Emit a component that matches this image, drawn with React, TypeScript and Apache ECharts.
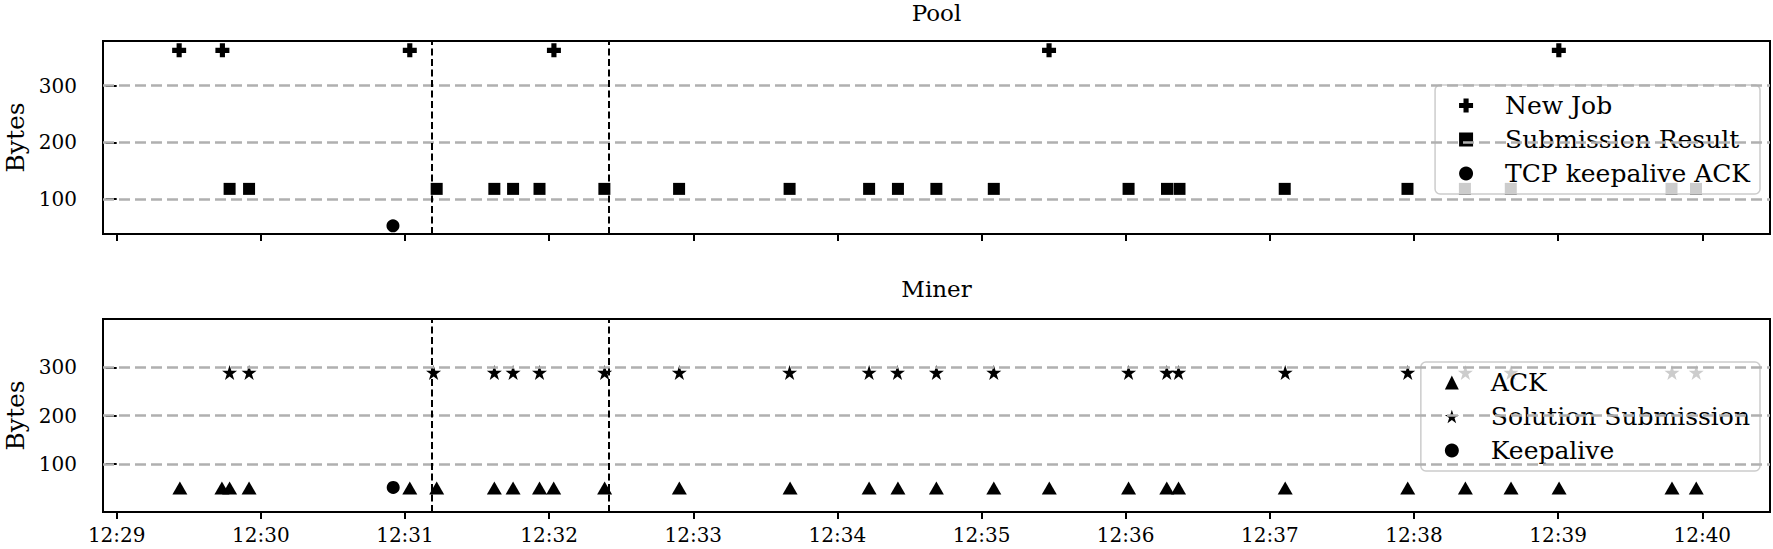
import React, { useEffect, useRef } from "react";
import * as echarts from "echarts";

// ---------- data (times are clock times, bytes are packet sizes) ----------
const START = "12:29:00";
const X_MIN_TIME = "12:28:54.3";
const X_MAX_TIME = "12:40:28.2";
const TICK_TIMES = ["12:29", "12:30", "12:31", "12:32", "12:33", "12:34", "12:35", "12:36", "12:37", "12:38", "12:39", "12:40"];
const Y_TICKS_POOL = [100, 200, 300];
const Y_TICKS_MINER = [0, 100, 200, 300, 400];
const GRID_VALUES = [100, 200, 300];
const EVENT_LINES = ["12:31:11.1", "12:32:24.9"];

const NEW_JOB_TIMES = ["12:29:26.0", "12:29:44.0", "12:31:02.0", "12:32:02.0", "12:35:28.1", "12:39:00.3"];
const NEW_JOB_BYTES = 362;

const SUBMISSION_RESULT_TIMES = [
  "12:29:47.0", "12:29:55.1", "12:31:13.2", "12:31:37.2", "12:31:45.0", "12:31:56.0", "12:32:23.0",
  "12:32:54.1", "12:33:40.1", "12:34:13.2", "12:34:25.2", "12:34:41.2", "12:35:05.1", "12:36:01.2",
  "12:36:17.2", "12:36:22.4", "12:37:06.2", "12:37:57.3", "12:38:21.2", "12:38:40.3", "12:39:47.2", "12:39:57.4",
];
const SUBMISSION_RESULT_BYTES = 118;

const TCP_KEEPALIVE_ACK_TIMES = ["12:30:55.0"];
const TCP_KEEPALIVE_ACK_BYTES = 53;

const ACK_TIMES = [
  "12:29:26.3", "12:29:43.8", "12:29:47.0", "12:29:55.1", "12:31:02.0", "12:31:13.2", "12:31:37.2",
  "12:31:45.0", "12:31:56.0", "12:32:01.9", "12:32:23.1", "12:32:54.2", "12:33:40.3", "12:34:13.2",
  "12:34:25.2", "12:34:41.2", "12:35:05.1", "12:35:28.2", "12:36:01.2", "12:36:17.1", "12:36:22.0",
  "12:37:06.4", "12:37:57.4", "12:38:21.4", "12:38:40.4", "12:39:00.4", "12:39:47.4", "12:39:57.5",
];
const ACK_BYTES = 50;

const SOLUTION_SUBMISSION_TIMES = [
  "12:29:47.0", "12:29:55.1", "12:31:11.9", "12:31:37.2", "12:31:45.0", "12:31:56.0", "12:32:23.1",
  "12:32:54.2", "12:33:40.1", "12:34:13.2", "12:34:25.0", "12:34:41.2", "12:35:05.1", "12:36:01.2",
  "12:36:17.1", "12:36:22.0", "12:37:06.4", "12:37:57.4", "12:38:21.4", "12:38:40.4", "12:39:47.4", "12:39:57.5",
];
const SOLUTION_SUBMISSION_BYTES = 289;

const KEEPALIVE_TIMES = ["12:30:55.1"];
const KEEPALIVE_BYTES = 51;

// ---------- helpers ----------
const toSec = (t: string) => {
  const p = t.split(":").map(Number);
  return p[0] * 3600 + p[1] * 60 + (p[2] || 0);
};
const rel = (t: string) => toSec(t) - toSec(START);
const pts = (times: string[], bytes: number) => times.map((t) => [rel(t), bytes]);

const FONT = "'DejaVu Serif', 'Liberation Serif', serif";
const BLACK = "#000000";

const PLUS_PATH =
  "path://M-1.1,-3L1.1,-3L1.1,-1.1L3,-1.1L3,1.1L1.1,1.1L1.1,3L-1.1,3L-1.1,1.1L-3,1.1L-3,-1.1L-1.1,-1.1Z";
const STAR_PATH = (() => {
  let d = "";
  for (let i = 0; i < 10; i++) {
    const r = i % 2 === 0 ? 1 : 0.382;
    const a = -Math.PI / 2 + (i * Math.PI) / 5;
    d += (i === 0 ? "M" : "L") + (r * Math.cos(a)).toFixed(4) + "," + (r * Math.sin(a)).toFixed(4);
  }
  return "path://" + d + "Z";
})();

export default function App() {
  const ref = useRef<HTMLDivElement>(null);

  useEffect(() => {
    if (!ref.current) return;
    const chart = echarts.init(ref.current, undefined, { renderer: "svg" });

    const xMin = rel(X_MIN_TIME);
    const xMax = rel(X_MAX_TIME);
    const tickVals = TICK_TIMES.map((t) => rel(t));
    const fmtTime = (v: number) => {
      const total = toSec(START) + v;
      const h = Math.floor(total / 3600);
      const m = Math.round((total - h * 3600) / 60);
      return `${h}:${String(m).padStart(2, "0")}`;
    };

    const grids = [
      { left: 103, right: 3, top: 41, height: 193 },
      { left: 103, right: 3, top: 319, height: 193 },
    ].map((g) => ({
      ...g,
      show: true,
      containLabel: false,
      outerBoundsMode: "none",
      borderColor: BLACK,
      borderWidth: 2,
      backgroundColor: "transparent",
    }));

    const xAxisBase = (i: number) => ({
      type: "value",
      gridIndex: i,
      min: xMin,
      max: xMax,
      axisLine: { show: false },
      splitLine: { show: false },
      axisTick: { show: true, customValues: tickVals, length: 7, lineStyle: { color: BLACK, width: 2 } },
      axisLabel: {
        show: i === 1,
        customValues: tickVals,
        formatter: (v: number) => fmtTime(v),
        margin: 13,
        fontFamily: FONT,
        fontSize: 20,
        color: BLACK,
      },
    });

    const yName = {
      name: "Bytes",
      nameLocation: "middle",
      nameGap: 75,
      nameRotate: 90,
      nameTextStyle: { fontFamily: FONT, fontSize: 25, color: BLACK },
    };

    const gridLineStyle = { color: "#b0b0b0", width: 2.5, type: [11, 5] };
    const eventLineStyle = { color: BLACK, width: 2, type: [7, 3.5] };
    const refLines = (gi: number) => ({
      type: "scatter",
      xAxisIndex: gi,
      yAxisIndex: gi,
      data: [],
      silent: true,
      z: 1,
      markLine: {
        silent: true,
        symbol: ["none", "none"],
        label: { show: false },
        animation: false,
        data: [
          ...GRID_VALUES.map((v) => ({ yAxis: v, lineStyle: gridLineStyle })),
          ...EVENT_LINES.map((t) => ({ xAxis: rel(t), lineStyle: eventLineStyle })),
        ],
      },
    });

    const sc = (name: string, gi: number, data: number[][], symbol: string, size: any) => ({
      name,
      type: "scatter",
      xAxisIndex: gi,
      yAxisIndex: gi,
      data,
      symbol,
      symbolSize: size,
      z: 3,
      silent: true,
      itemStyle: { color: BLACK, opacity: 1 },
      emphasis: { disabled: true },
    });

    const legendBase = (top: number, items: { name: string; icon: string }[]) => ({
      orient: "vertical",
      right: 13,
      top,
      padding: [8, 10, 8, 24],
      itemGap: 9,
      itemWidth: 14,
      itemHeight: 14,
      selectedMode: false,
      backgroundColor: "rgba(255,255,255,0.8)",
      borderColor: "#cccccc",
      borderWidth: 1.5,
      borderRadius: 5,
      data: items,
      formatter: (name: string) => `{p| }{t|${name}}`,
      textStyle: {
        fontFamily: FONT,
        fontSize: 25,
        color: BLACK,
        rich: {
          p: { width: 27, fontSize: 25, fontFamily: FONT, lineHeight: 24 },
          t: { fontSize: 25, fontFamily: FONT, color: BLACK, lineHeight: 24 },
        },
      },
    });

    const titleStyle = { fontFamily: FONT, fontSize: 23, fontWeight: "normal", color: BLACK };

    const option: any = {
      animation: false,
      backgroundColor: "#ffffff",
      textStyle: { fontFamily: FONT },
      title: [
        { text: "Pool", left: 936.5, top: 1, padding: 0, textAlign: "center", textStyle: titleStyle },
        { text: "Miner", left: 936.5, top: 277, padding: 0, textAlign: "center", textStyle: titleStyle },
      ],
      grid: grids,
      xAxis: [xAxisBase(0), xAxisBase(1)],
      yAxis: [
        {
          type: "value",
          gridIndex: 0,
          min: 38.5,
          max: 378.5,
          ...yName,
          axisLine: { show: false },
          splitLine: { show: false },
          axisTick: { show: true, customValues: Y_TICKS_POOL, length: 11, lineStyle: { color: BLACK, width: 2 } },
          axisLabel: { customValues: Y_TICKS_POOL, margin: 26, fontFamily: FONT, fontSize: 20, color: BLACK },
        },
        {
          type: "value",
          gridIndex: 1,
          min: 0,
          max: 400,
          interval: 100,
          ...yName,
          axisLine: { show: false },
          splitLine: { show: false },
          axisTick: { show: true, customValues: Y_TICKS_MINER, length: 11, lineStyle: { color: BLACK, width: 2 } },
          axisLabel: {
            margin: 26,
            fontFamily: FONT,
            fontSize: 20,
            color: BLACK,
            formatter: (v: number) => (v === 0 || v === 400 ? "" : String(v)),
          },
        },
      ],
      legend: [
        legendBase(85, [
          { name: "New Job", icon: PLUS_PATH },
          { name: "Submission Result", icon: "rect" },
          { name: "TCP keepalive ACK", icon: "circle" },
        ]),
        legendBase(362, [
          { name: "ACK", icon: "triangle" },
          { name: "Solution Submission", icon: STAR_PATH },
          { name: "Keepalive", icon: "circle" },
        ]),
      ],
      series: [
        refLines(0),
        refLines(1),
        sc("New Job", 0, pts(NEW_JOB_TIMES, NEW_JOB_BYTES), PLUS_PATH, 14),
        sc("Submission Result", 0, pts(SUBMISSION_RESULT_TIMES, SUBMISSION_RESULT_BYTES), "rect", 12),
        sc("TCP keepalive ACK", 0, pts(TCP_KEEPALIVE_ACK_TIMES, TCP_KEEPALIVE_ACK_BYTES), "circle", 13),
        sc("ACK", 1, pts(ACK_TIMES, ACK_BYTES), "triangle", [15, 13]),
        sc("Solution Submission", 1, pts(SOLUTION_SUBMISSION_TIMES, SOLUTION_SUBMISSION_BYTES), STAR_PATH, 15),
        sc("Keepalive", 1, pts(KEEPALIVE_TIMES, KEEPALIVE_BYTES), "circle", 13),
      ],
    };

    chart.setOption(option);
    return () => chart.dispose();
  }, []);

  return (
    <div
      ref={ref}
      style={{ position: "fixed", left: 0, top: 0, width: 1773, height: 549, background: "#ffffff" }}
    />
  );
}
